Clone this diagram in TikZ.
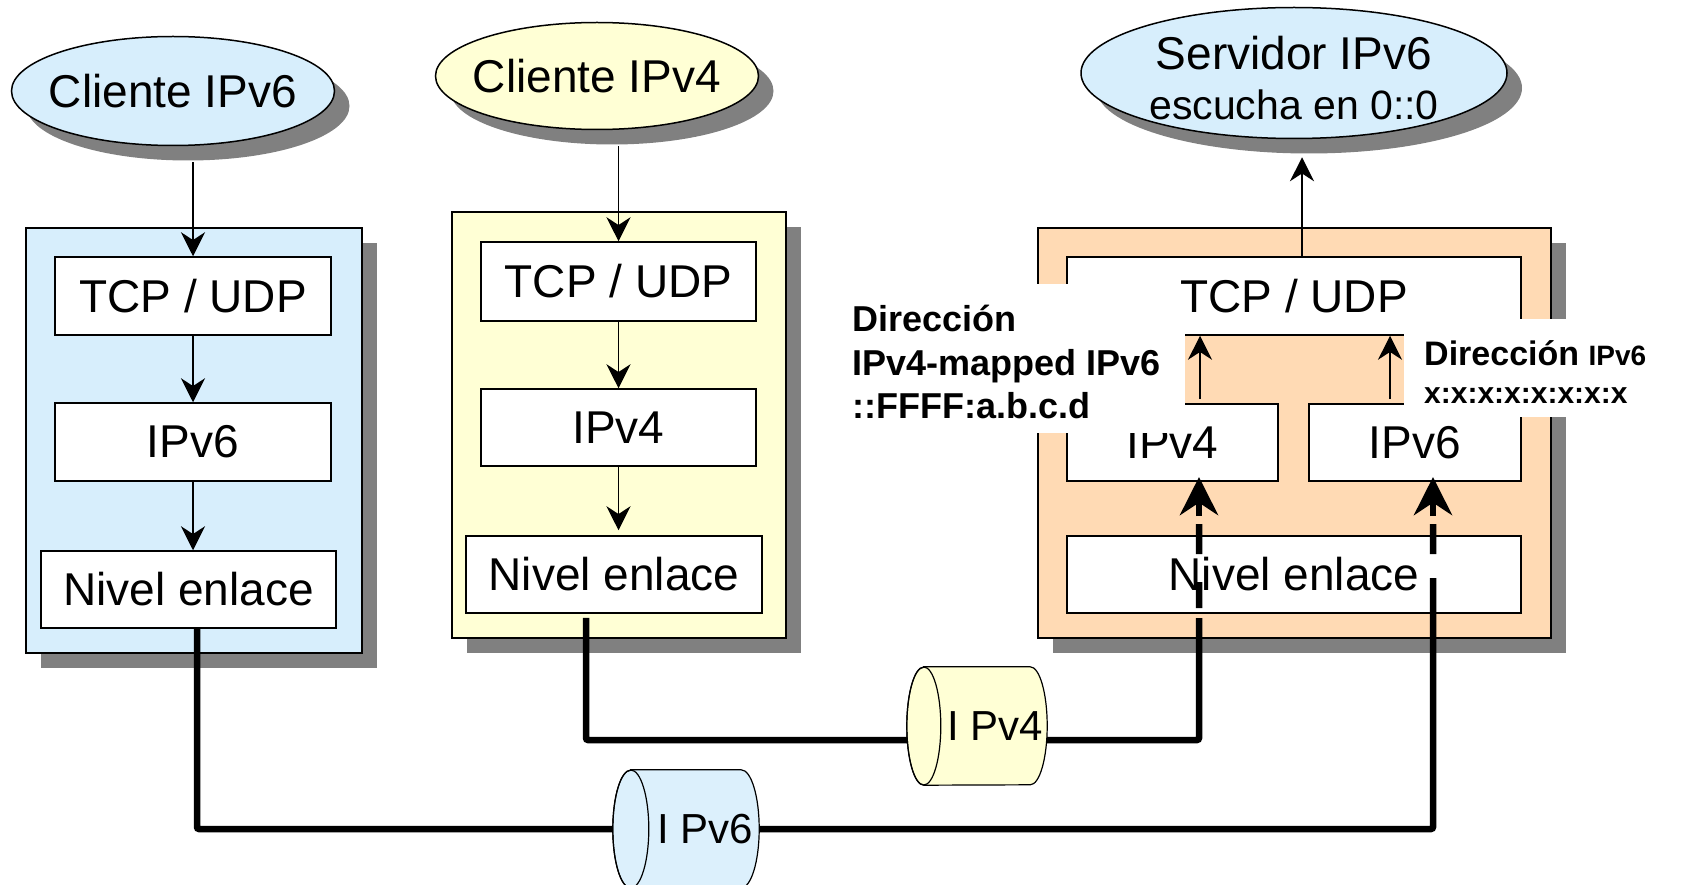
\documentclass[tikz,border=0pt]{standalone}
\usepackage{fontspec}
\setmainfont{Liberation Sans}
\usetikzlibrary{shapes.geometric,shadows,arrows.meta,calc}
\definecolor{azul}{RGB}{215,238,252}
\definecolor{azulc}{RGB}{220,240,252}
\definecolor{amarillo}{RGB}{255,255,213}
\definecolor{naranja}{RGB}{255,218,180}
\definecolor{sombra}{RGB}{128,128,128}

\begin{document}
\begin{tikzpicture}[x=1pt,y=-1pt,
  sombreado/.style={drop shadow={shadow xshift=15pt,shadow yshift=-15pt,fill=sombra,opacity=1}},
  texto/.style={font=\fontsize{46}{50}\selectfont},
  nube/.style={ellipse,draw,line width=1.5pt,sombreado,inner sep=0pt},
  pila/.style={rectangle,draw,line width=1.5pt,sombreado},
  capa/.style={rectangle,draw,line width=1.5pt,fill=white,inner sep=0pt,texto},
  hueco/.style={rectangle,inner sep=0pt,minimum height=118pt},
  cil/.style={draw,line width=1.2pt},
  rotulo/.style={inner sep=0pt,font=\fontsize{42}{50}\selectfont},
  flecha/.style={line width=1.3pt,-{Stealth[length=24pt,width=24pt]}},
  enlace/.style={line width=6.5pt,rounded corners=2pt},
  punta/.style={line width=6.5pt,-{Stealth[length=38pt,width=38pt]}},
  nota/.style={align=left,inner sep=0pt,font=\bfseries\fontsize{36}{43.5}\selectfont},
  fondo/.style={fill=white,inner sep=0pt}]
\useasboundingbox (0,0) rectangle (1681,885);

%cliente ipv6
\node[pila,fill=azul,minimum width=336pt,minimum height=425pt] (pila6) at (194,440.5) {};
\node[capa,minimum width=276pt,minimum height=78pt] (tcp6) at (193,296) {TCP / UDP};
\node[capa,minimum width=276pt,minimum height=78pt] (ip6) at (193,442) {IPv6};
\node[capa,minimum width=295pt,minimum height=77pt] (enl6) at (188.5,589.5) {Nivel enlace};
\node[nube,fill=azul,minimum width=323pt,minimum height=109pt,label={[texto]center:Cliente IPv6}] (cli6) at (173,91) {};
\draw[flecha] ($(cli6.south -| tcp6.north)+(0,16)$) -- (tcp6.north);
\draw[flecha] (tcp6.south) -- (ip6.north);
\draw[flecha] (ip6.south) -- (ip6.south |- enl6.north);

%cliente ipv4
\node[pila,fill=amarillo,minimum width=334pt,minimum height=426pt] (pila4) at (619,425) {};
\node[capa,minimum width=275pt,minimum height=79pt] (tcp4) at (618.5,281.5) {TCP / UDP};
\node[capa,minimum width=275pt,minimum height=77pt] (ip4) at (618.5,427.5) {IPv4};
\node[capa,minimum width=296pt,minimum height=77pt] (enl4) at (614,574.5) {Nivel enlace};
\node[nube,fill=amarillo,minimum width=323pt,minimum height=107pt,label={[texto]center:Cliente IPv4}] (cli4) at (597,76) {};
\draw[flecha] ($(cli4.south -| tcp4.north)+(0,16)$) -- (tcp4.north);
\draw[flecha] (tcp4.south) -- (ip4.north);
\draw[flecha] (ip4.south) -- ($(ip4.south |- enl4.north)+(0,-5)$);

%servidor
\node[pila,fill=naranja,minimum width=513pt,minimum height=410pt] (pilas) at (1294.5,433) {};
\node[capa,minimum width=454pt,minimum height=78pt] (tcps) at (1294,296) {TCP / UDP};
\node[capa,minimum width=211pt,minimum height=77pt] (ip4s) at (1172.5,442.5) {IPv4};
\node[capa,minimum width=212pt,minimum height=77pt] (ip6s) at (1415,442.5) {IPv6};
\node[capa,minimum width=454pt,minimum height=77pt] (enls) at (1294,574.5) {Nivel enlace};
\node[nube,fill=azul,minimum width=426pt,minimum height=131pt,
  label={[texto,align=center,yshift=-5pt]center:Servidor IPv6\\{\fontsize{41}{54}\selectfont escucha en 0::0}}] (serv) at (1294,73) {};
\draw[flecha] ($(tcps.north)+(8,0)$) -- ($(serv.south)+(8,18)$);
\coordinate (m4) at (1200,399);
\coordinate (m6) at (1390,399);
\draw[flecha] (m4) -- (m4 |- tcps.south);
\draw[flecha] (m6) -- (m6 |- tcps.south);

%redes
\node[hueco,minimum width=146pt] (v6net) at (686,829) {};
\draw[cil,fill=azulc] ($(v6net.north west)+(18,0)$) -- ($(v6net.north east)+(-18,0)$)
  arc[start angle=90,end angle=-90,x radius=18pt,y radius=59pt] -- ($(v6net.south west)+(18,0)$)
  arc[start angle=270,end angle=90,x radius=18pt,y radius=59pt] -- cycle;
\draw[cil] ($(v6net.west)+(18,0)$) ellipse[x radius=18pt,y radius=59pt];
\node[rotulo] (t6) at ($(v6net)+(19,0)$) {I Pv6};
\node[hueco,minimum width=140pt] (v4net) at (977,726) {};
\draw[cil,fill=amarillo] ($(v4net.north west)+(17,0)$) -- ($(v4net.north east)+(-17,0)$)
  arc[start angle=90,end angle=-90,x radius=17pt,y radius=59pt] -- ($(v4net.south west)+(17,0)$)
  arc[start angle=270,end angle=90,x radius=17pt,y radius=59pt] -- cycle;
\draw[cil] ($(v4net.west)+(17,0)$) ellipse[x radius=17pt,y radius=59pt];
\node[rotulo] (t4) at ($(v4net)+(18,0)$) {I Pv4};
\coordinate (p4) at (1199,477);
\coordinate (q4) at (1199,524);
\coordinate (p6) at (1433,477);
\coordinate (q6) at (1433,524);
\draw[enlace] ($(enl6.south)+(8.5,0)$) |- (v6net.west);
\draw[enlace] ($(enl4.south)+(-28,4)$) |- ($(v4net.west)+(0,14)$);
\draw[enlace,dash pattern=on 30pt off 28pt on 26pt off 10pt on 500pt off 1pt] (q4) |- ($(v4net.east)+(0,14)$);
\draw[enlace,dash pattern=on 30pt off 24pt on 2000pt off 1pt] (q6) |- (v6net.east);
\draw[punta] ($(p4)+(0,39)$) -- (p4);
\draw[punta] ($(p6)+(0,39)$) -- (p6);

%direcciones
\node[fondo,minimum width=340pt,minimum height=149pt] (fmap) at (1015,358.5) {};
\node[nota,anchor=north west] (dmap) at (852,305) {Dirección\\IPv4-mapped IPv6\\::FFFF:a.b.c.d};
\node[fondo,minimum width=277pt,minimum height=98pt] (fv6) at (1542.5,368) {};
\node[nota,anchor=north west,font=\bfseries\fontsize{34}{38}\selectfont] (dv6) at (1424,340)
  {Dirección {\fontsize{28}{30}\selectfont IPv6}\\{\fontsize{30}{38}\selectfont x:x:x:x:x:x:x:x}};
\end{tikzpicture}
\end{document}
